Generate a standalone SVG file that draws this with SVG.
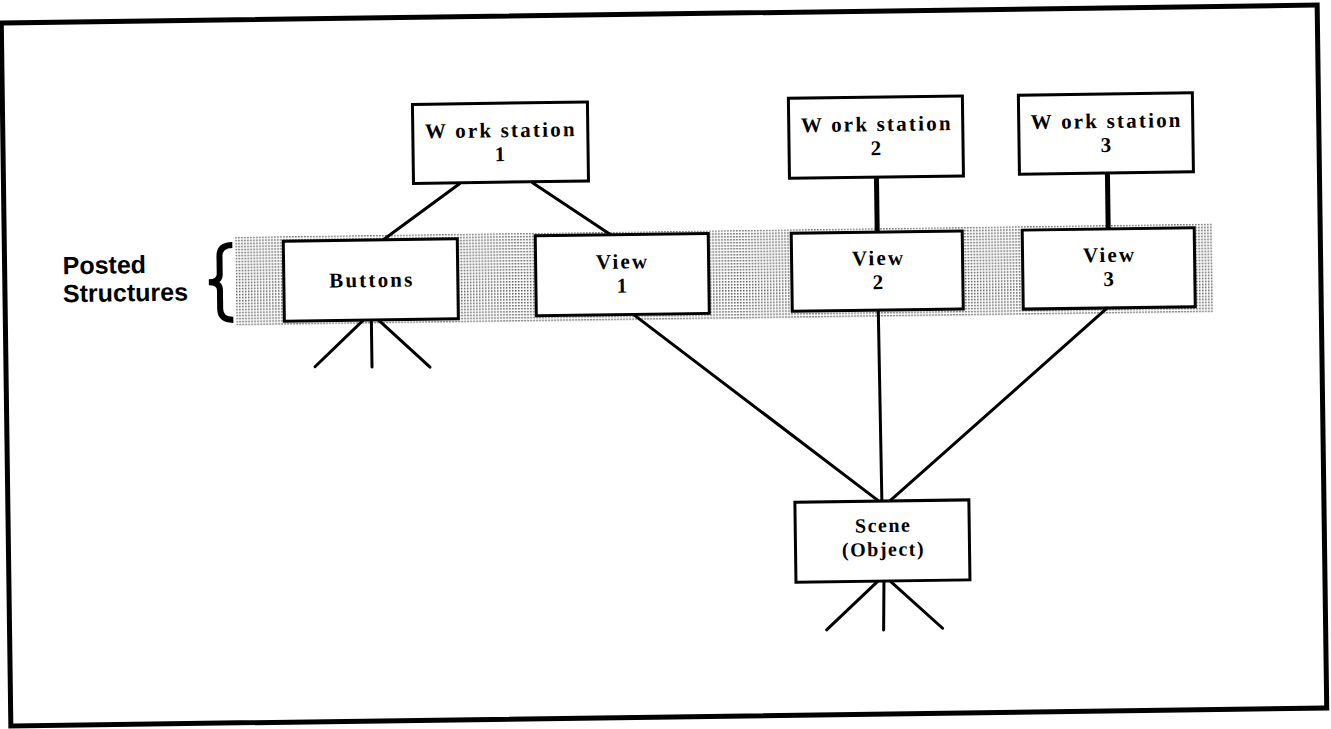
<svg xmlns="http://www.w3.org/2000/svg" width="1331" height="729" viewBox="0 0 1331 729">
  <defs>
    <pattern id="stipple" width="3" height="3" patternUnits="userSpaceOnUse">
      <rect x="0" y="0" width="1.5" height="1.5" fill="#555"/>
    </pattern>
    <style>
      .box { fill: #fff; stroke: #000; stroke-width: 3; }
      .lbl { font-family: "Liberation Serif", "Times New Roman", serif; font-weight: bold; font-size: 21px; letter-spacing: 2.2px; text-anchor: middle; fill: #000; }
      .scene { font-size: 20px; letter-spacing: 1.5px; }
      .side { font-family: "Liberation Sans", Arial, sans-serif; font-weight: bold; font-size: 25px; fill: #000; }
      .edge { stroke: #000; stroke-width: 3; fill: none; stroke-linecap: round; }
      .edge-heavy { stroke: #000; stroke-width: 5; fill: none; }
    </style>
  </defs>
  <rect width="1331" height="729" fill="#fff"/>
  <g transform="rotate(-0.78 665 365)">
    <!-- page frame -->
    <rect x="6" y="14" width="1316" height="703" fill="none" stroke="#000" stroke-width="5"/>

    <!-- shaded band marking the posted structures -->
    <rect x="237" y="231" width="977" height="89" fill="url(#stipple)"/>

    <!-- side label with brace -->
    <g id="posted-label">
      <text class="side" x="64" y="266">Posted</text>
      <text class="side" x="64" y="294">Structures</text>
      <path d="M234,239 Q221,239 221,250 L221,268 Q221,276 210,276 Q221,276 221,284 L221,303 Q221,314 234,314" fill="none" stroke="#000" stroke-width="6"/>
    </g>

    <!-- connectors -->
    <g id="connectors">
      <line class="edge" x1="462" y1="181" x2="385" y2="236"/>
      <line class="edge" x1="535" y1="181" x2="614" y2="235"/>
      <line class="edge-heavy" x1="879" y1="181" x2="879" y2="236"/>
      <line class="edge-heavy" x1="1110" y1="179" x2="1110" y2="235"/>
      <line class="edge" x1="634" y1="314" x2="877" y2="504"/>
      <line class="edge" x1="879" y1="313" x2="880" y2="504"/>
      <line class="edge" x1="1108" y1="314" x2="888" y2="504"/>
      <!-- stubs below Buttons -->
      <line class="edge" x1="364" y1="316" x2="315" y2="362"/>
      <line class="edge" x1="372" y1="316" x2="372" y2="363"/>
      <line class="edge" x1="379" y1="316" x2="430" y2="364"/>
      <!-- stubs below Scene -->
      <line class="edge" x1="875" y1="584" x2="823" y2="632"/>
      <line class="edge" x1="881" y1="584" x2="880" y2="633"/>
      <line class="edge" x1="887" y1="584" x2="939" y2="632"/>
    </g>

    <g id="workstation-1">
      <rect class="box" x="416" y="101" width="175" height="79"/>
      <text class="lbl" x="504" y="135">W ork station</text>
      <text class="lbl" x="504" y="159">1</text>
    </g>
    <g id="workstation-2">
      <rect class="box" x="792" y="100" width="174" height="80"/>
      <text class="lbl" x="880" y="134">W ork station</text>
      <text class="lbl" x="880" y="158">2</text>
    </g>
    <g id="workstation-3">
      <rect class="box" x="1022" y="100" width="174" height="79"/>
      <text class="lbl" x="1110" y="134">W ork station</text>
      <text class="lbl" x="1110" y="158">3</text>
    </g>

    <g id="buttons">
      <rect class="box" x="285" y="236" width="174" height="80"/>
      <text class="lbl" x="373" y="283">Buttons</text>
    </g>
    <g id="view-1">
      <rect class="box" x="537" y="234" width="173" height="80"/>
      <text class="lbl" x="624" y="268">View</text>
      <text class="lbl" x="624" y="292">1</text>
    </g>
    <g id="view-2">
      <rect class="box" x="793" y="235" width="171" height="78"/>
      <text class="lbl" x="880" y="268">View</text>
      <text class="lbl" x="880" y="292">2</text>
    </g>
    <g id="view-3">
      <rect class="box" x="1024" y="235" width="172" height="79"/>
      <text class="lbl" x="1111" y="268">View</text>
      <text class="lbl" x="1111" y="292">3</text>
    </g>

    <g id="scene">
      <rect class="box" x="793" y="504" width="174" height="80"/>
      <text class="lbl scene" x="881" y="535">Scene</text>
      <text class="lbl scene" x="881" y="559">(Object)</text>
    </g>
  </g>
</svg>
